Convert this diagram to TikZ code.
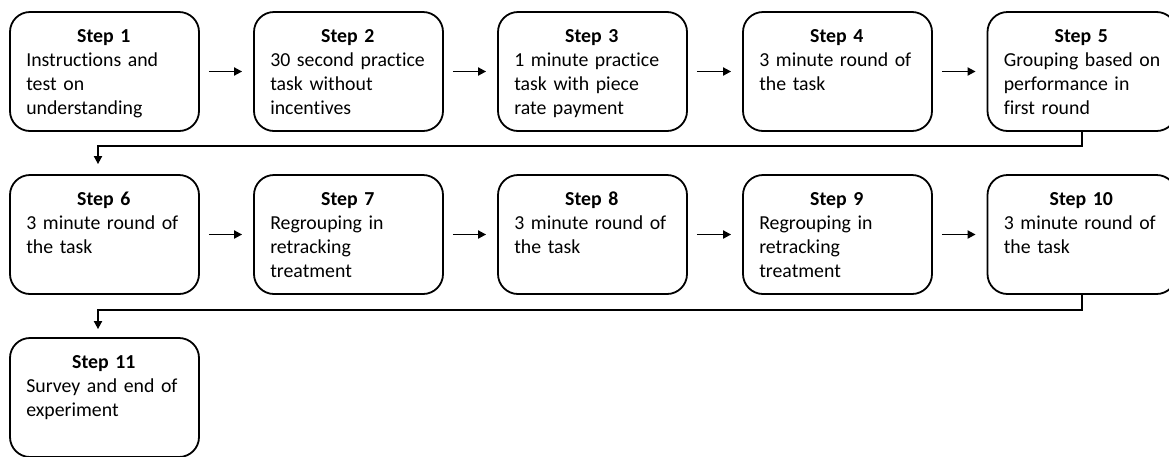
\documentclass[tikz,border=0pt]{standalone}
\usepackage{fontspec}
\setmainfont{Carlito}[Ligatures={NoCommon,NoContextual}]
\usetikzlibrary{arrows.meta}
\tikzset{
  stepbox/.style={draw=black, line width=1.8pt, rounded corners=20pt, minimum width=189pt, minimum height=119pt, inner sep=0pt},
  txt/.style={anchor=base west, inner sep=0pt, text width=175pt, align=left, font=\fontsize{19.8pt}{24pt}\selectfont},
  arr/.style={draw=black, line width=1.8pt, -{Triangle[length=8pt,width=8pt]}}
}
\newcommand{\hdr}[1]{\makebox[155pt]{\bfseries #1}}
\begin{document}
\begin{tikzpicture}[x=1pt,y=-1pt]
\useasboundingbox (0,0) rectangle (1169,456);
% row 1
\node[stepbox] (b1) at (104.5,71.5) {};
\node[stepbox] (b2) at (348.5,71.5) {};
\node[stepbox] (b3) at (592.5,71.5) {};
\node[stepbox] (b4) at (837.5,71.5) {};
\node[stepbox] (b5) at (1082,71.5) {};
% row 2
\node[stepbox] (b6) at (104.5,234.5) {};
\node[stepbox] (b7) at (348.5,234.5) {};
\node[stepbox] (b8) at (592.5,234.5) {};
\node[stepbox] (b9) at (837.5,234.5) {};
\node[stepbox] (b10) at (1082,234.5) {};
% row 3
\node[stepbox] (b11) at (104.5,397.5) {};
% texts
\node[txt] (t1) at ([xshift=17pt,yshift=-31.5pt]b1.north west) {\hdr{Step 1}\\Instructions and\\test on\\understanding};
\node[txt] (t2) at ([xshift=17pt,yshift=-31.5pt]b2.north west) {\hdr{Step 2}\\30 second practice\\task without\\incentives};
\node[txt] (t3) at ([xshift=17pt,yshift=-31.5pt]b3.north west) {\hdr{Step 3}\\1 minute practice\\task with piece\\rate payment};
\node[txt] (t4) at ([xshift=17pt,yshift=-31.5pt]b4.north west) {\hdr{Step 4}\\3 minute round of\\the task};
\node[txt] (t5) at ([xshift=17pt,yshift=-31.5pt]b5.north west) {\hdr{Step 5}\\Grouping based on\\performance in\\first round};
\node[txt] (t6) at ([xshift=17pt,yshift=-31.5pt]b6.north west) {\hdr{Step 6}\\3 minute round of\\the task};
\node[txt] (t7) at ([xshift=17pt,yshift=-31.5pt]b7.north west) {\hdr{Step 7}\\Regrouping in\\retracking\\treatment};
\node[txt] (t8) at ([xshift=17pt,yshift=-31.5pt]b8.north west) {\hdr{Step 8}\\3 minute round of\\the task};
\node[txt] (t9) at ([xshift=17pt,yshift=-31.5pt]b9.north west) {\hdr{Step 9}\\Regrouping in\\retracking\\treatment};
\node[txt] (t10) at ([xshift=17pt,yshift=-31.5pt]b10.north west) {\hdr{Step 10}\\3 minute round of\\the task};
\node[txt] (t11) at ([xshift=17pt,yshift=-31.5pt]b11.north west) {\hdr{Step 11}\\Survey and end of\\experiment};
% arrows
\foreach \a/\b in {b1/b2,b2/b3,b3/b4,b4/b5,b6/b7,b7/b8,b8/b9,b9/b10}
  \draw[arr] ([xshift=9pt]\a.east) -- ([xshift=-11pt]\b.west);
\draw[arr] (b5.south) -- ++(0,14) -| ([xshift=-6.5pt,yshift=10pt]b6.north);
\draw[arr] (b10.south) -- ++(0,15) -| ([xshift=-6.5pt,yshift=8pt]b11.north);
\end{tikzpicture}
\end{document}
